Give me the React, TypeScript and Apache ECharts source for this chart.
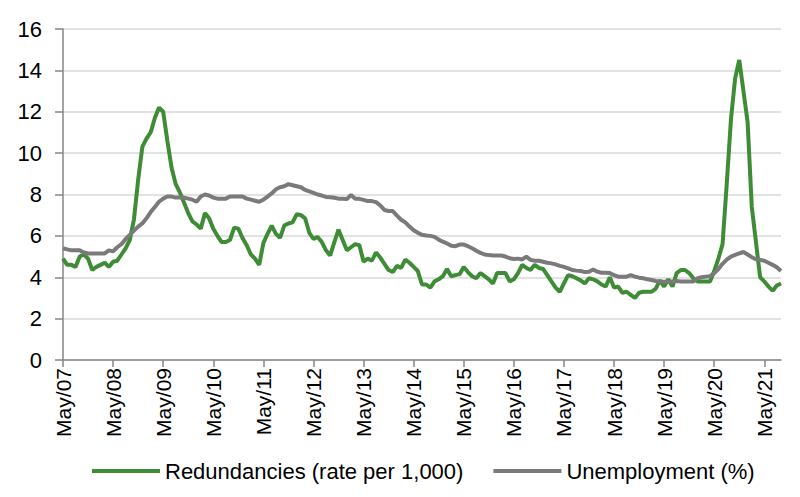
import React, { useEffect, useRef } from "react";
import * as echarts from "echarts";

const START_YEAR = 2007;
const START_MONTH = 4; // May (0-based)
const MONTH_NAMES = ["Jan", "Feb", "Mar", "Apr", "May", "Jun", "Jul", "Aug", "Sep", "Oct", "Nov", "Dec"];

const redundancies = [
  4.9, 4.6, 4.6, 4.5, 5.0, 5.1, 4.9, 4.35, 4.5, 4.6, 4.7, 4.5,
  4.75, 4.8, 5.1, 5.4, 5.8, 6.8, 8.7, 10.3, 10.7, 11.0, 11.7, 12.2,
  12.0, 10.6, 9.3, 8.5, 8.1, 7.6, 7.1, 6.7, 6.55, 6.35, 7.1, 6.85,
  6.35, 6.0, 5.7, 5.7, 5.8, 6.4, 6.35, 5.9, 5.55, 5.1, 4.9, 4.6,
  5.65, 6.1, 6.5, 6.1, 5.9, 6.5, 6.6, 6.65, 7.05, 7.0, 6.85, 6.15,
  5.85, 5.95, 5.7, 5.3, 5.05, 5.7, 6.3, 5.8, 5.3, 5.45, 5.6, 5.55,
  4.75, 4.9, 4.8, 5.2, 4.95, 4.65, 4.35, 4.25, 4.55, 4.45, 4.85, 4.7,
  4.5, 4.3, 3.65, 3.65, 3.5, 3.8, 3.9, 4.05, 4.4, 4.05, 4.1, 4.15,
  4.5, 4.25, 4.05, 3.95, 4.2, 4.05, 3.9, 3.7, 4.2, 4.2, 4.2, 3.8,
  3.9, 4.2, 4.6, 4.45, 4.35, 4.6, 4.45, 4.4, 4.1, 3.8, 3.5, 3.3,
  3.7, 4.1, 4.05, 3.95, 3.85, 3.7, 3.95, 3.9, 3.8, 3.65, 3.55, 4.0,
  3.5, 3.55, 3.25, 3.3, 3.15, 3.0, 3.25, 3.3, 3.3, 3.3, 3.45, 3.85,
  3.55, 3.9, 3.55, 4.2, 4.35, 4.35, 4.2, 3.95, 3.8, 3.8, 3.8, 3.8,
  4.3, 4.9, 5.6, 8.5, 11.6, 13.6, 14.5, 13.0, 11.5, 7.4, 5.7, 4.0,
  3.8, 3.55, 3.35, 3.6, 3.7,
];

const unemployment = [
  5.4, 5.35, 5.3, 5.3, 5.3, 5.2, 5.15, 5.15, 5.15, 5.15, 5.15, 5.3,
  5.25, 5.45, 5.6, 5.85, 6.05, 6.25, 6.45, 6.6, 6.85, 7.15, 7.4, 7.65,
  7.8, 7.9, 7.9, 7.85, 7.85, 7.85, 7.8, 7.75, 7.65, 7.9, 8.0, 7.95,
  7.85, 7.8, 7.8, 7.8, 7.9, 7.9, 7.9, 7.9, 7.8, 7.75, 7.7, 7.65,
  7.75, 7.9, 8.05, 8.25, 8.35, 8.4, 8.5, 8.45, 8.4, 8.35, 8.22, 8.15,
  8.08, 8.0, 7.95, 7.88, 7.87, 7.84, 7.8, 7.8, 7.78, 7.98, 7.8, 7.79,
  7.74, 7.68, 7.68, 7.63, 7.47, 7.25, 7.2, 7.2, 6.98, 6.78, 6.65, 6.45,
  6.27, 6.15, 6.05, 6.02, 6.0, 5.95, 5.82, 5.72, 5.63, 5.52, 5.5, 5.58,
  5.58, 5.5, 5.4, 5.28, 5.18, 5.1, 5.07, 5.05, 5.05, 5.05, 5.0, 4.92,
  4.88, 4.9, 4.86, 5.0, 4.84, 4.8, 4.8, 4.75, 4.7, 4.67, 4.62, 4.55,
  4.5, 4.43, 4.35, 4.32, 4.3, 4.25, 4.27, 4.38, 4.27, 4.22, 4.22, 4.2,
  4.1, 4.03, 4.03, 4.03, 4.1, 4.03, 3.98, 3.95, 3.9, 3.87, 3.82, 3.8,
  3.78, 3.8, 3.8, 3.82, 3.8, 3.8, 3.8, 3.8, 3.95, 4.0, 4.03, 4.05,
  4.2, 4.4, 4.65, 4.85, 5.0, 5.08, 5.15, 5.22, 5.1, 4.97, 4.87, 4.84,
  4.8, 4.7, 4.6, 4.48, 4.3,
];

const categories: string[] = redundancies.map((_, i) => {
  const m = START_MONTH + i;
  const year = START_YEAR + Math.floor(m / 12);
  return MONTH_NAMES[m % 12] + "/" + String(year % 100).padStart(2, "0");
});

const yTicks = { min: 0, max: 16, interval: 2 };
const seriesNames = ["Redundancies (rate per 1,000)", "Unemployment (%)"];

const FONT = "'Liberation Sans', Arial, sans-serif";

export default function App() {
  const ref = useRef<HTMLDivElement>(null);
  useEffect(() => {
    if (!ref.current) return;
    const chart = echarts.init(ref.current, undefined, { renderer: "svg" });
    chart.setOption({
      animation: false,
      backgroundColor: "#ffffff",
      textStyle: { fontFamily: FONT },
      grid: { left: 63, right: 19, top: 29, bottom: 137, containLabel: false },
      legend: {
        left: 87,
        top: 455,
        itemWidth: 68,
        itemHeight: 4,
        itemGap: 30,
        icon: "rect",
        textStyle: { fontSize: 22, color: "#000", fontFamily: FONT, padding: [0, 0, 0, 0] },
        data: seriesNames,
      },
      xAxis: {
        type: "category",
        data: categories,
        boundaryGap: false,
        axisLine: { lineStyle: { color: "#868686", width: 1.5 } },
        axisTick: { show: true, interval: 11, length: 7, lineStyle: { color: "#868686", width: 1.5 } },
        axisLabel: {
          interval: 11,
          rotate: 90,
          margin: 8,
          fontSize: 21,
          color: "#000",
          fontFamily: FONT,
        },
        splitLine: { show: false },
      },
      yAxis: {
        type: "value",
        min: yTicks.min,
        max: yTicks.max,
        interval: yTicks.interval,
        axisLine: { show: true, lineStyle: { color: "#868686", width: 1.5 } },
        axisTick: { show: true, inside: false, length: 8, lineStyle: { color: "#868686", width: 1.5 } },
        axisLabel: { margin: 21, fontSize: 22, color: "#000", fontFamily: FONT },
        splitLine: { show: true, lineStyle: { color: "#d9d9d9", width: 1.5 } },
      },
      series: [
        {
          name: seriesNames[0],
          type: "line",
          data: redundancies,
          symbol: "none",
          lineStyle: { color: "#3f8c37", width: 4 },
          itemStyle: { color: "#3f8c37" },
        },
        {
          name: seriesNames[1],
          type: "line",
          data: unemployment,
          symbol: "none",
          lineStyle: { color: "#7a7a7a", width: 4 },
          itemStyle: { color: "#7a7a7a" },
        },
      ],
    });
    return () => chart.dispose();
  }, []);
  return (
    <div
      ref={ref}
      style={{ position: "absolute", left: 0, top: 0, width: 800, height: 497, background: "#fff" }}
    />
  );
}
